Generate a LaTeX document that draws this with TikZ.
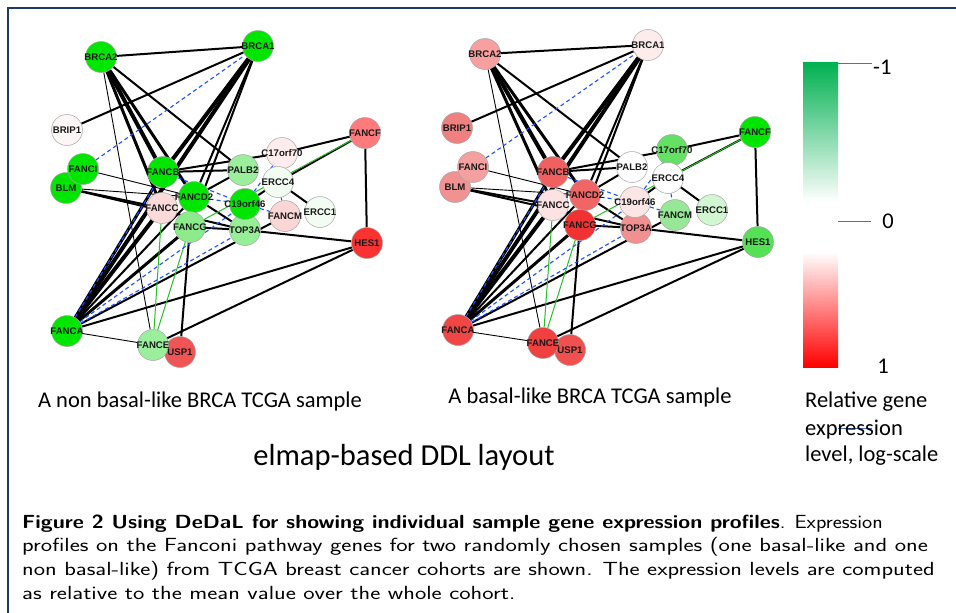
\documentclass[tikz,border=0pt]{standalone}
\usepackage{fontspec}
\newfontfamily\arialf{Liberation Sans}
\newfontfamily\calf{Carlito}
\usetikzlibrary{backgrounds}
\definecolor{navy}{RGB}{31,56,100}
\definecolor{gB}{RGB}{0,230,0}
\definecolor{dblue}{RGB}{30,80,255}
\definecolor{egreen}{RGB}{40,190,40}
\definecolor{tick}{RGB}{68,114,196}
\definecolor{xlgreen}{RGB}{0,176,80}
\tikzset{
  gene/.style={circle, draw=black!35, line width=0.5pt, minimum size=31pt, inner sep=0pt},
  gl/.style={font=\arialf\bfseries\fontsize{9.6}{10}\selectfont, text=black!90, inner sep=0pt},
  ea/.style={line width=0.9pt},
  eb/.style={line width=2pt},
  ec/.style={line width=3pt},
  ef/.style={line width=4pt},
  eg/.style={line width=1pt, draw=egreen},
  ed/.style={line width=1.1pt, draw=dblue, dash pattern=on 4pt off 3pt},
  sub/.style={font=\calf\fontsize{22.5}{26}\selectfont, inner sep=0pt},
  captxt/.style={font=\sffamily\fontsize{19}{22}\selectfont, inner sep=0pt, anchor=base west}
}
\begin{document}
\begin{tikzpicture}[x=1pt,y=-1pt]
\useasboundingbox (0,0) rectangle (956,613);
\draw[navy, line width=2.6pt] (8,613) -- (8,8) -- (956,8);
% left network
\node[gene, fill=gB] (LBRCA2) at (101,57) {};
\node[gene, fill=gB] (LBRCA1) at (258,46) {};
\node[gene, fill={rgb,255:red,253;green,246;blue,246}] (LBRIP1) at (67,130) {};
\node[gene, fill=gB] (LBLM) at (66,188) {};
\node[gene, fill=gB] (LFANCI) at (83,169) {};
\node[gene, fill=gB] (LFANCB) at (163,172) {};
\node[gene, fill={rgb,255:red,252;green,218;blue,218}] (LFANCC) at (162,208) {};
\node[gene, fill=gB] (LFANCD2) at (194,197) {};
\node[gene, fill={rgb,255:red,140;green,236;blue,140}] (LFANCG) at (190,227) {};
\node[gene, fill={rgb,255:red,155;green,238;blue,155}] (LPALB2) at (243,170) {};
\node[gene, fill={rgb,255:red,253;green,236;blue,236}] (LC17orf70) at (282,153) {};
\node[gene, fill={rgb,255:red,242;green,252;blue,242}] (LERCC4) at (278,182) {};
\node[gene, fill={rgb,255:red,150;green,238;blue,150}] (LTOP3A) at (245,230) {};
\node[gene, fill=gB] (LC19orf46) at (245,204) {};
\node[gene, fill={rgb,255:red,251;green,214;blue,214}] (LFANCM) at (285,216) {};
\node[gene, fill={rgb,255:red,242;green,252;blue,242}] (LERCC1) at (320,212) {};
\node[gene, fill={rgb,255:red,255;green,122;blue,122}] (LFANCF) at (365,133) {};
\node[gene, fill={rgb,255:red,250;green,50;blue,50}] (LHES1) at (367,243) {};
\node[gene, fill=gB] (LFANCA) at (67,331) {};
\node[gene, fill={rgb,255:red,240;green,85;blue,85}] (LUSP1) at (180,352) {};
\node[gene, fill={rgb,255:red,155;green,238;blue,155}] (LFANCE) at (153,345) {};
% right network
\node[gene, fill={rgb,255:red,248;green,160;blue,160}] (RBRCA2) at (485,54) {};
\node[gene, fill={rgb,255:red,252;green,236;blue,236}] (RBRCA1) at (648,45) {};
\node[gene, fill={rgb,255:red,240;green,128;blue,128}] (RBRIP1) at (457,128) {};
\node[gene, fill={rgb,255:red,240;green,146;blue,146}] (RBLM) at (455,187) {};
\node[gene, fill={rgb,255:red,245;green,160;blue,160}] (RFANCI) at (473,167) {};
\node[gene, fill={rgb,255:red,240;green,96;blue,96}] (RFANCB) at (553,172) {};
\node[gene, fill={rgb,255:red,252;green,226;blue,226}] (RFANCC) at (553,205) {};
\node[gene, fill={rgb,255:red,240;green,102;blue,102}] (RFANCD2) at (585,195) {};
\node[gene, fill={rgb,255:red,240;green,50;blue,50}] (RFANCG) at (580,225) {};
\node[gene, fill=white] (RPALB2) at (632,167) {};
\node[gene, fill={rgb,255:red,100;green,224;blue,100}] (RC17orf70) at (672,150) {};
\node[gene, fill=white] (RERCC4) at (668,178) {};
\node[gene, fill={rgb,255:red,240;green,144;blue,144}] (RTOP3A) at (636,228) {};
\node[gene, fill={rgb,255:red,252;green,229;blue,229}] (RC19orf46) at (635,202) {};
\node[gene, fill={rgb,255:red,150;green,232;blue,150}] (RFANCM) at (675,215) {};
\node[gene, fill={rgb,255:red,210;green,245;blue,210}] (RERCC1) at (712,210) {};
\node[gene, fill=gB] (RFANCF) at (755,132) {};
\node[gene, fill={rgb,255:red,85;green,224;blue,85}] (RHES1) at (758,242) {};
\node[gene, fill={rgb,255:red,240;green,70;blue,70}] (RFANCA) at (458,330) {};
\node[gene, fill={rgb,255:red,240;green,80;blue,80}] (RUSP1) at (570,350) {};
\node[gene, fill={rgb,255:red,240;green,64;blue,64}] (RFANCE) at (543,343) {};
% labels
\foreach \side in {L,R}{
  \foreach \g in {BRCA2,BRCA1,BRIP1,BLM,FANCI,FANCB,FANCC,FANCD2,FANCG,PALB2,C17orf70,ERCC4,TOP3A,C19orf46,FANCM,ERCC1,FANCF,HES1,FANCA,USP1,FANCE}
    \node[gl] at (\side\g) {\g};
}
% edges
\begin{scope}[on background layer]
\foreach \side in {L,R}{
  \draw[ef] (\side BRCA2) -- (\side FANCB);
  \draw[ef] (\side BRCA1) -- (\side FANCB);
  \draw[ef] (\side BRCA1) -- (\side FANCA);
  \draw[ef] (\side FANCC) -- (\side FANCA);
  \draw[ec] (\side BRCA2) -- (\side FANCC);
  \draw[ec] (\side BRCA2) -- (\side FANCD2);
  \draw[ec] (\side FANCB) -- (\side FANCA);
  \draw[ec] (\side FANCG) -- (\side FANCA);
  \draw[eb] (\side BRCA2) -- (\side BRCA1);
  \draw[eb] (\side BRCA2) -- (\side PALB2);
  \draw[eb] (\side BRIP1) -- (\side BRCA1);
  \draw[eb] (\side BRCA1) -- (\side FANCD2);
  \draw[eb] (\side BRCA1) -- (\side FANCG);
  \draw[eb] (\side BLM) -- (\side FANCC);
  \draw[eb] (\side BLM) -- (\side TOP3A);
  \draw[eb] (\side FANCB) -- (\side PALB2);
  \draw[eb] (\side FANCB) -- (\side C17orf70);
  \draw[eb] (\side FANCD2) -- (\side PALB2);
  \draw[eb] (\side C17orf70) -- (\side FANCF);
  \draw[eb] (\side ERCC4) -- (\side FANCF);
  \draw[eb] (\side FANCF) -- (\side HES1);
  \draw[eb] (\side HES1) -- (\side TOP3A);
  \draw[eb] (\side HES1) -- (\side FANCA);
  \draw[eb] (\side HES1) -- (\side FANCE);
  \draw[eb] (\side FANCG) -- (\side USP1);
  \draw[eb] (\side FANCG) -- (\side TOP3A);
  \draw[eb] (\side FANCD2) -- (\side TOP3A);
  \draw[eb] (\side FANCD2) -- (\side FANCA);
  \draw[eb] (\side FANCA) -- (\side FANCM);
  \draw[eb] (\side ERCC4) -- (\side ERCC1);
  \draw[eb] (\side ERCC4) -- (\side C19orf46);
  \draw[ea] (\side BRCA2) -- (\side FANCE);
  \draw[ea] (\side FANCI) -- (\side FANCD2);
  \draw[ea] (\side BLM) -- (\side FANCD2);
  \draw[ea] (\side FANCA) -- (\side FANCE);
  \draw[eg] (\side FANCG) -- (\side FANCF);
  \draw[eg] (\side FANCC) -- (\side FANCE);
  \draw[eg] (\side FANCG) -- (\side FANCE);
  \draw[ed] (\side FANCI) -- (\side BRCA1);
  \draw[ed] (\side FANCB) -- (\side C19orf46);
  \draw[ed] (\side FANCA) -- (\side FANCB);
  \draw[ed] (\side FANCA) -- (\side C19orf46);
  \draw[ed] (\side FANCA) -- (\side TOP3A);
  \draw[ed] (\side C17orf70) -- (\side C19orf46);
  \draw[ed] (\side ERCC4) -- (\side FANCM);
  \draw[ed] (\side C19orf46) -- (\side FANCM);
  \draw[ed] (\side FANCD2) -- (\side C19orf46);
}
\end{scope}
% subtitles
\node[sub] at (200,401) {A non basal-like BRCA TCGA sample};
\node[sub] at (590,397) {A basal-like BRCA TCGA sample};
\node[font=\calf\fontsize{30.5}{34}\selectfont, inner sep=0pt] at (404,457) {elmap-based DDL layout};
% legend
\shade[top color=xlgreen, bottom color=white] (803,62) rectangle (838,202);
\shade[top color=white, bottom color=red] (803,252) rectangle (838,367);
\draw[tick, line width=1pt] (838,63) -- (872,63);
\draw[tick, line width=1pt] (838,221) -- (871,221);
\draw[tick, line width=1pt] (838,428) -- (872,428);
\node[sub, anchor=west] at (873,67) {-1};
\node[sub] at (888,221) {0};
\node[sub] at (883,366) {1};
\node[sub, anchor=west] at (805,402) {Relative gene};
\node[sub, anchor=west] at (805,430) {expression};
\node[sub, anchor=west] at (805,456) {level, log-scale};
% caption
\node[captxt] at (22,528) {\scalebox{1.136}[1]{\textbf{Figure 2 Using DeDaL for showing individual sample gene expression profiles}. Expression}};
\node[captxt] at (22,551) {\scalebox{1.268}[1]{profiles on the Fanconi pathway genes for two randomly chosen samples (one basal-like and one}};
\node[captxt] at (22,575) {\scalebox{1.265}[1]{non basal-like) from TCGA breast cancer cohorts are shown. The expression levels are computed}};
\node[captxt] at (22,599) {\scalebox{1.268}[1]{as relative to the mean value over the whole cohort.}};
\end{tikzpicture}
\end{document}
